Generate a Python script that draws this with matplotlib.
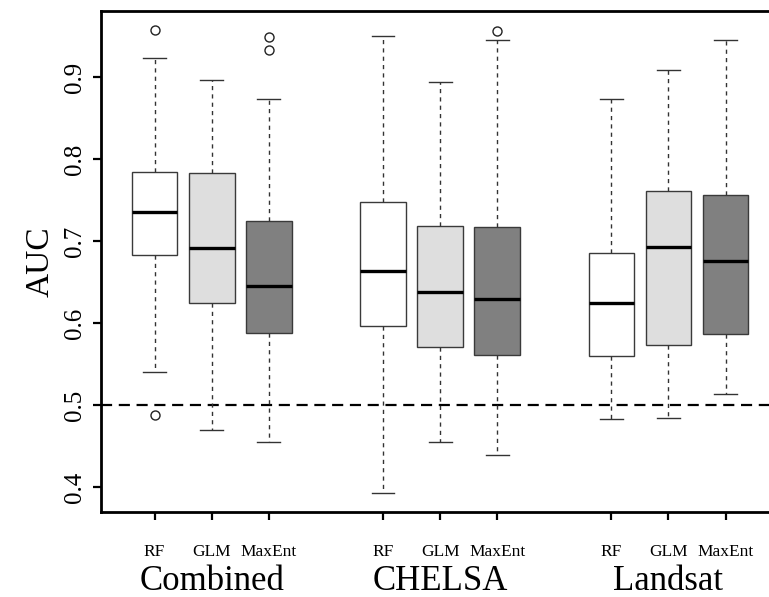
import matplotlib
matplotlib.use("Agg")
import matplotlib.pyplot as plt
import matplotlib.transforms as mtransforms

plt.rcParams['font.family'] = ['Liberation Serif', 'DejaVu Serif']

# Werte
gruppen = ['Combined', 'CHELSA', 'Landsat']
modelle = ['RF', 'GLM', 'MaxEnt']
positionen = [1, 2, 3, 5, 6, 7, 9, 10, 11]
farben = ['white', '#dedede', '#808080'] * 3

unterer_whisker = [0.540, 0.470, 0.455, 0.392, 0.455, 0.439, 0.483, 0.484, 0.513]
q1 = [0.683, 0.624, 0.588, 0.596, 0.571, 0.561, 0.560, 0.573, 0.587]
median = [0.736, 0.692, 0.645, 0.663, 0.638, 0.629, 0.624, 0.693, 0.676]
q3 = [0.785, 0.783, 0.725, 0.748, 0.719, 0.717, 0.686, 0.761, 0.756]
oberer_whisker = [0.923, 0.897, 0.874, 0.951, 0.894, 0.945, 0.873, 0.909, 0.945]
ausreisser = [[0.958, 0.488], [], [0.949, 0.933], [], [], [0.956], [], [], []]

stats = []
for i in range(len(positionen)):
    stats.append({'whislo': unterer_whisker[i], 'q1': q1[i], 'med': median[i],
                  'q3': q3[i], 'whishi': oberer_whisker[i], 'fliers': ausreisser[i]})

fig = plt.figure(figsize=(7.69, 5.97), dpi=100)
ax = fig.add_axes([0.1313, 0.1419, 0.882, 0.8397])

bp = ax.bxp(stats, positions=positionen, widths=0.8, patch_artist=True,
            capwidths=0.4,
            boxprops=dict(edgecolor='#3a3a3a', linewidth=1.0),
            medianprops=dict(color='black', linewidth=2.4, solid_capstyle='butt'),
            whiskerprops=dict(color='#333333', linewidth=1.0, linestyle=(0, (3, 3))),
            capprops=dict(color='#333333', linewidth=1.0),
            flierprops=dict(marker='o', markerfacecolor='none', markeredgecolor='#222222',
                            markersize=6.5, markeredgewidth=1.0))
for patch, farbe in zip(bp['boxes'], farben):
    patch.set_facecolor(farbe)

# Zufallsgrenze
ax.axhline(0.5, color='black', linewidth=1.6, linestyle=(0, (5, 3)), zorder=0.5)

ax.set_xlim(0.06, 11.94)
ax.set_ylim(0.369, 0.981)

ax.set_yticks([0.4, 0.5, 0.6, 0.7, 0.8, 0.9])
ax.set_yticklabels(['0.4', '0.5', '0.6', '0.7', '0.8', '0.9'], rotation=90, va='center')
ax.set_xticks(positionen)
ax.set_xticklabels(modelle * 3)
ax.tick_params(axis='y', labelsize=18, length=6, width=1.6, pad=5)
ax.tick_params(axis='x', labelsize=12.5, length=6, width=1.6, pad=17)

for seite in ['left', 'bottom', 'top', 'right']:
    ax.spines[seite].set_linewidth(2.0)

ax.set_ylabel('AUC', fontsize=24, labelpad=6)

trans = mtransforms.blended_transform_factory(ax.transData, ax.transAxes)
for k, name in enumerate(gruppen):
    mitte = sum(positionen[3 * k:3 * k + 3]) / 3
    ax.text(mitte, -0.155, name, transform=trans, ha='center', va='baseline', fontsize=25)

fig.savefig('out.png', dpi=100)
